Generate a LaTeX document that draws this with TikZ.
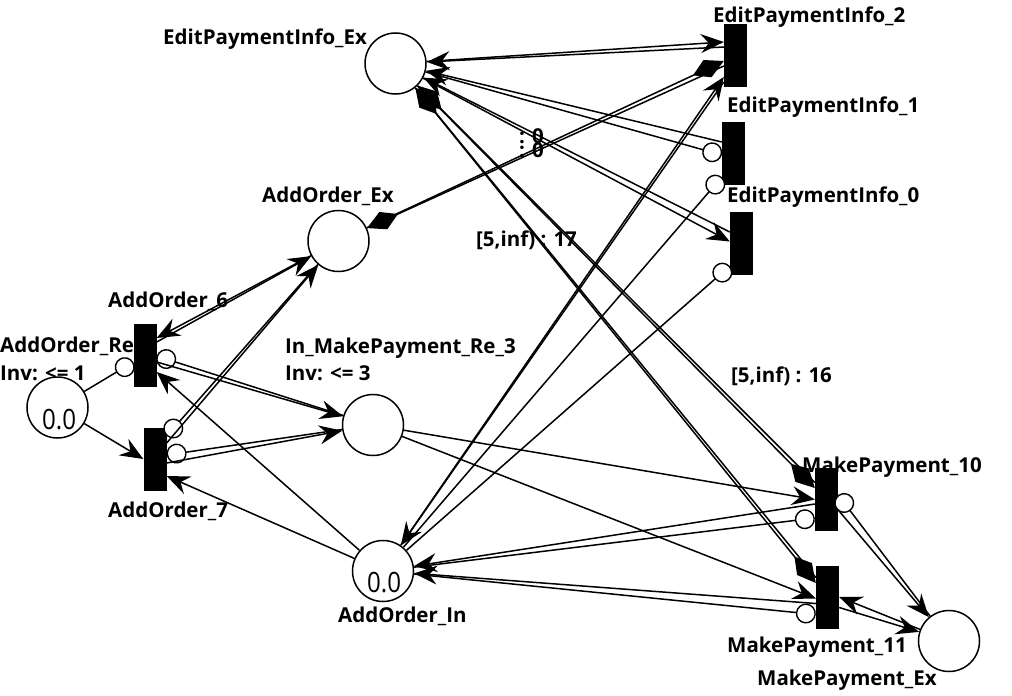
\documentclass[tikz,border=0pt]{standalone}
\usepackage{fontspec}
\setmainfont{Open Sans}
\usepackage{graphicx}
\usetikzlibrary{arrows.meta,calc}
\begin{document}
\begin{tikzpicture}[x=1pt,y=-1pt,
  place/.style={circle,draw,line width=1.5pt,fill=white,minimum size=61pt,inner sep=0pt},
  trans/.style={rectangle,fill=black,draw=none,minimum width=23pt,minimum height=63pt,inner sep=0pt},
  lbl/.style={font=\fontsize{20.5}{22}\selectfont\bfseries,inner sep=0pt,anchor=base west},
  tok/.style={font=\fontsize{28}{30}\selectfont,inner sep=0pt,anchor=base west},
  arc/.style={line width=1.5pt},
  arr/.style={-{Stealth[length=23pt,width=19pt,inset=8pt]}},
  inh/.style={-{Circle[length=20pt,width=20pt,fill=white,line width=1.4pt]}},
  tr/.style={-{Kite[length=34pt,width=19pt,inset=16pt]}}]
\fill[white] (0,0) rectangle (1012,696);
\useasboundingbox (0,0) rectangle (1012,696);
% labels
\node[lbl] (lEPIEx) at (163,44) {EditPaymentInfo\_Ex};
\node[lbl] (lT2) at (713,22) {EditPaymentInfo\_2};
\node[lbl] (lT1) at (727,112) {EditPaymentInfo\_1};
\node[lbl] (lT0) at (727,202) {EditPaymentInfo\_0};
\node[lbl] (lAOEx) at (262,202) {AddOrder\_Ex};
\node[lbl] (lT6) at (108,307) {AddOrder\_6};
\node[lbl] (lAORe) at (0,352) {AddOrder\_Re};
\node[lbl] (lAOReInv) at (0,380) {Inv: <= 1};
\node[lbl] (lIMP) at (285,353) {In\_MakePayment\_Re\_3};
\node[lbl] (lIMPInv) at (285,380) {Inv: <= 3};
\node[lbl] (lT7) at (108,517) {AddOrder\_7};
\node[lbl] (lAOIn) at (338,622) {AddOrder\_In};
\node[lbl] (lT10) at (802,472) {MakePayment\_10};
\node[lbl] (lT11) at (727,652) {MakePayment\_11};
\node[lbl] (lMPEx) at (757,685) {MakePayment\_Ex};
\node[lbl] (g17) at (476,246) {[5,inf) : 17};
\node[lbl] (g16) at (731,382) {[5,inf) : 16};
\node[lbl] (z1) at (519,143) {: 0};
\node[lbl] (z2) at (519,157) {: 0};
% places
\node[place] (EPIEx) at (395.5,63.5) {};
\node[place] (AOEx) at (338.5,241) {};
\node[place] (AORe) at (57.5,407.5) {};
\node[place] (IMP) at (373,425) {};
\node[place] (AOIn) at (383,571) {};
\node[place] (MPEx) at (949,641) {};
\node[tok] (tokRe) at (42,429) {\scalebox{0.86}[1]{0.0}};
\node[tok] (tokIn) at (367,592) {\scalebox{0.86}[1]{0.0}};
% transitions
\node[trans] (T2) at (735.5,55) {};
\node[trans] (T1) at (733.5,153.5) {};
\node[trans] (T0) at (741.5,243.5) {};
\node[trans] (T6) at (145,355) {};
\node[trans] (T7) at (155,459) {};
\node[trans] (T10) at (826.5,499.5) {};
\node[trans] (T11) at (827.5,597) {};
% T2
\draw[arc,arr] (EPIEx) -- ([yshift=13pt]T2.west);
\draw[arc,arr] ([yshift=8pt]T2.west) -- (EPIEx);
\draw[arc,tr] (AOEx) -- ([yshift=-6pt]T2.west);
\draw[arc,tr] ([yshift=-11pt]T2.west) -- (AOEx);
\draw[arc,arr] (AOIn) -- ([yshift=-22pt]T2.west);
\draw[arc,arr] ([yshift=-27pt]T2.west) -- (AOIn);
% T1
\draw[arc,inh] (EPIEx) -- ([yshift=-1.5pt]T1.west);
\draw[arc,arr] ([yshift=11.5pt]T1.west) -- (EPIEx);
\draw[arc,inh] (AOIn) -- ([yshift=-23.5pt]T1.west);
% T0
\draw[arc,arr] (EPIEx) -- ([yshift=2pt]T0.west);
\draw[arc,arr] ([yshift=11.5pt]T0.west) -- (EPIEx);
\draw[arc,inh] (AOIn) -- ([yshift=-22.5pt]T0.west);
% T6
\draw[arc,inh] (AORe) -- ([yshift=-7pt]T6.west);
\draw[arc,arr] (AOEx) -- ([yshift=17pt]T6.east);
\draw[arc,arr] ([yshift=13pt]T6.east) -- (AOEx);
\draw[arc,inh] (IMP) -- ([yshift=-1pt]T6.east);
\draw[arc,arr] ([yshift=-7pt]T6.east) -- (IMP);
\draw[arc,arr] (AOIn) -- ([yshift=-17pt]T6.east);
% T7
\draw[arc,arr] (AORe) -- (T7.west);
\draw[arc,inh] (AOEx) -- ([yshift=23pt]T7.east);
\draw[arc,arr] ([yshift=16pt]T7.east) -- (AOEx);
\draw[arc,inh] (IMP) -- ([yshift=4pt]T7.east);
\draw[arc,arr] ([yshift=-4pt]T7.east) -- (IMP);
\draw[arc,arr] (AOIn) -- ([yshift=-17pt]T7.east);
% T10
\draw[arc,tr] (EPIEx) -- ([yshift=11.5pt]T10.west);
\draw[arc,tr] ([yshift=17pt]T10.west) -- (EPIEx);
\draw[arc,arr] (IMP) -- (T10.west);
\draw[arc,inh] (AOIn) -- ([yshift=-18.5pt]T10.west);
\draw[arc,arr] ([yshift=-4.5pt]T10.west) -- (AOIn);
\draw[arc,inh] (MPEx) -- ([yshift=4.5pt]T10.east);
\draw[arc,arr] ([yshift=-10.5pt]T10.east) -- (MPEx);
% T11
\draw[arc,tr] (EPIEx) -- ([yshift=14pt]T11.west);
\draw[arc,tr] ([yshift=19.5pt]T11.west) -- (EPIEx);
\draw[arc,arr] (IMP) -- ([yshift=-1.5pt]T11.west);
\draw[arc,inh] (AOIn) -- ([yshift=-17.5pt]T11.west);
\draw[arc,arr] ([yshift=-6.5pt]T11.west) -- (AOIn);
\draw[arc,arr] (MPEx) -- (T11.east);
\draw[arc,arr] ([yshift=-10.5pt]T11.east) -- (MPEx);
\end{tikzpicture}
\end{document}
